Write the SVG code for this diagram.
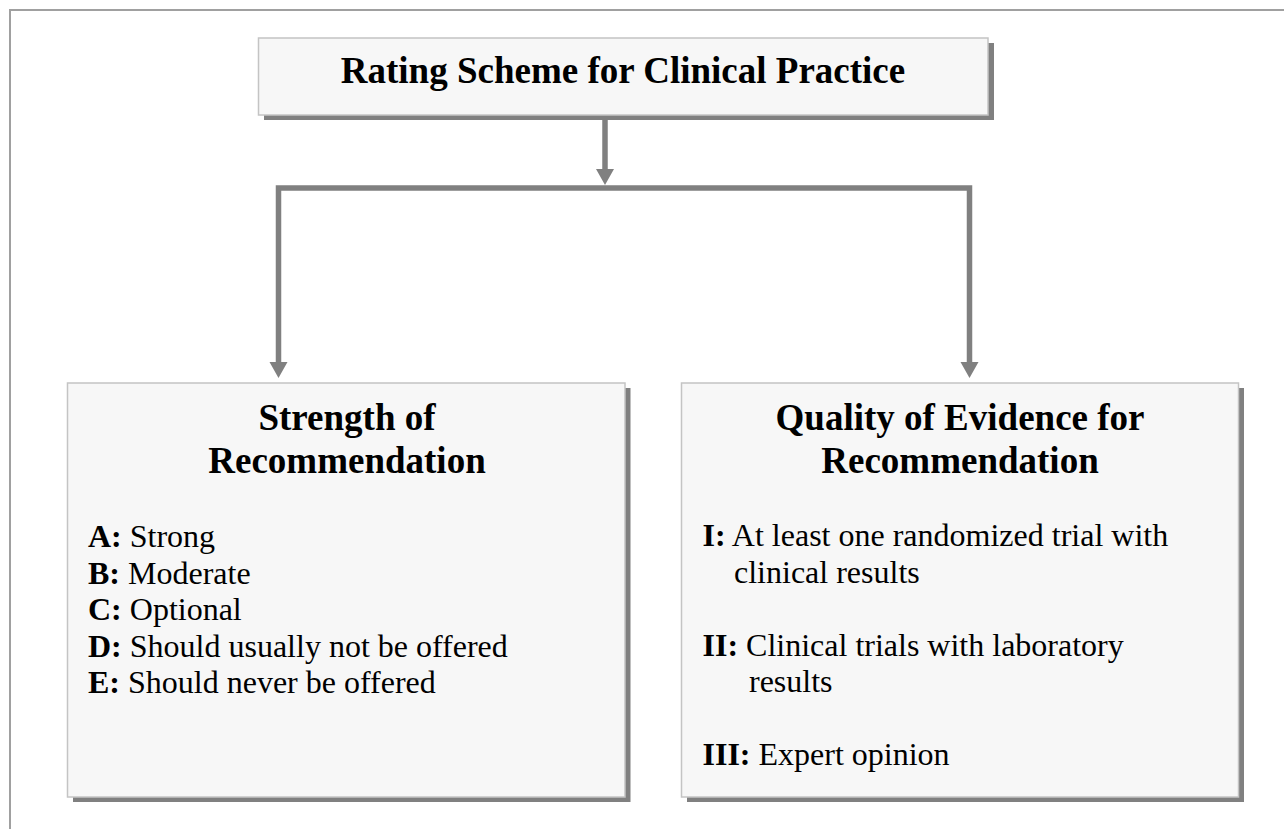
<svg xmlns="http://www.w3.org/2000/svg" width="1284" height="829" viewBox="0 0 1284 829">
<defs>
<style>
.frame{stroke:#a0a0a0;stroke-width:2;fill:none}
.shadow{fill:#808080}
.box{fill:#f7f7f7;stroke:#c4c4c4;stroke-width:1.5}
.conn{stroke:#808080;stroke-width:5.5;fill:none;stroke-linejoin:miter}
.head{font-family:"Liberation Serif","Times New Roman",serif;font-weight:bold;font-size:37px;fill:#000;text-anchor:middle}
.item{font-family:"Liberation Serif","Times New Roman",serif;font-size:32px;fill:#000}
.b{font-weight:bold}
</style>
<marker id="arr" markerUnits="userSpaceOnUse" markerWidth="18" markerHeight="16" refX="9" refY="16" orient="auto" viewBox="0 0 18 16">
<path d="M0,0 L18,0 L9,16 Z" fill="#808080" transform="rotate(0)"/>
</marker>
</defs>
<rect width="1284" height="829" fill="#ffffff"/>
<path class="frame" d="M10,829 V10 H1284"/>

<g id="connectors">
<line class="conn" x1="605" y1="116" x2="605" y2="169"/>
<path d="M596,169 L614,169 L605,185 Z" fill="#808080"/>
<path class="conn" d="M278.5,362 V188 H969.5 V362"/>
<path d="M269.5,362 L287.5,362 L278.5,378 Z" fill="#808080"/>
<path d="M960.5,362 L978.5,362 L969.5,378 Z" fill="#808080"/>
</g>

<g id="title">
<rect class="shadow" x="264" y="43" width="730" height="77"/>
<rect class="box" x="258.5" y="38" width="729.5" height="77"/>
<text class="head" x="623" y="83">Rating Scheme for Clinical Practice</text>
</g>

<g id="strength">
<rect class="shadow" x="73" y="388" width="557.5" height="414"/>
<rect class="box" x="67.5" y="383" width="557.5" height="414"/>
<text class="head" x="347" y="430">Strength of</text>
<text class="head" x="347" y="473">Recommendation</text>
<text class="item" x="88" y="547"><tspan class="b">A:</tspan> Strong</text>
<text class="item" x="88" y="583.5"><tspan class="b">B:</tspan> Moderate</text>
<text class="item" x="88" y="620"><tspan class="b">C:</tspan> Optional</text>
<text class="item" x="88" y="656.5"><tspan class="b">D:</tspan> Should usually not be offered</text>
<text class="item" x="88" y="693"><tspan class="b">E:</tspan> Should never be offered</text>
</g>

<g id="quality">
<rect class="shadow" x="687" y="388" width="557" height="414"/>
<rect class="box" x="681.5" y="383" width="557" height="414"/>
<text class="head" x="960" y="430">Quality of Evidence for</text>
<text class="head" x="960" y="473">Recommendation</text>
<text class="item" x="702.5" y="546"><tspan class="b">I:</tspan> At least one randomized trial with</text>
<text class="item" x="734" y="582.5">clinical results</text>
<text class="item" x="702.5" y="655.5"><tspan class="b">II:</tspan> Clinical trials with laboratory</text>
<text class="item" x="749" y="692">results</text>
<text class="item" x="702.5" y="765"><tspan class="b">III:</tspan> Expert opinion</text>
</g>
</svg>
